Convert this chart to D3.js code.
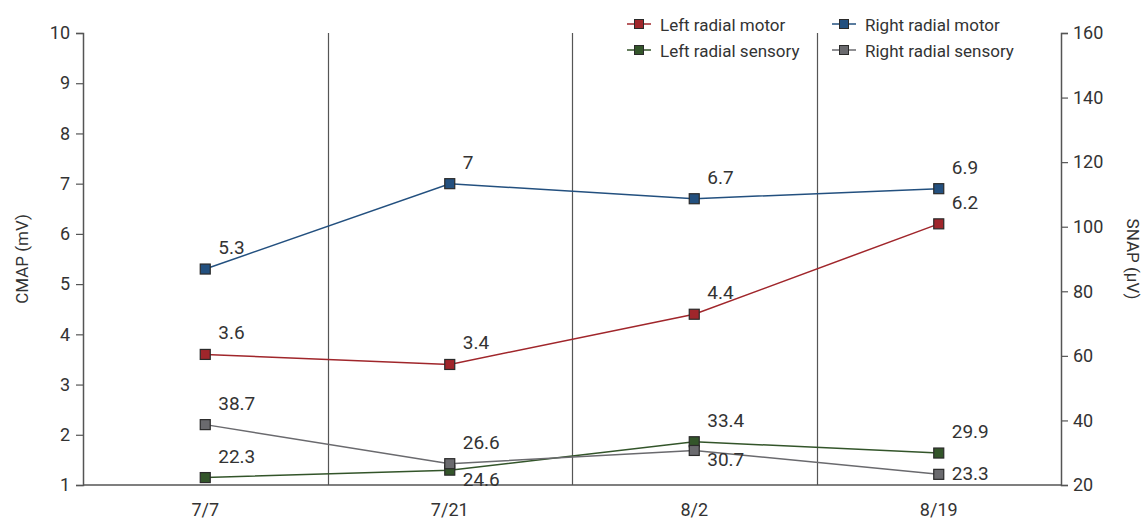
<!DOCTYPE html>
<html>
<head>
<meta charset="utf-8">
<script src="https://cdn.jsdelivr.net/npm/d3@7/dist/d3.min.js"></script>
<style>
  html, body { margin: 0; padding: 0; background: #fff; }
  svg text { font-family: "Roboto", "Liberation Sans", sans-serif; fill: #333; }
</style>
</head>
<body>
<svg id="chart" width="1145" height="521"></svg>
<script>
// Visit dates
const dates = ["7/7", "7/21", "8/2", "8/19"];

// CMAP (mV), left axis
const leftMotor = [3.6, 3.4, 4.4, 6.2];
const rightMotor = [5.3, 7, 6.7, 6.9];

// SNAP (µV), right axis
const leftSensory = [22.3, 24.6, 33.4, 29.9];
const rightSensory = [38.7, 26.6, 30.7, 23.3];

const cmapTicks = [1, 2, 3, 4, 5, 6, 7, 8, 9, 10];
const snapTicks = [20, 40, 60, 80, 100, 120, 140, 160];

const series = [
  { name: "Left radial motor",    values: leftMotor,    axis: "cmap", color: "#a0262b", label: ["up", "up", "up", "up"] },
  { name: "Right radial motor",   values: rightMotor,   axis: "cmap", color: "#23507f", label: ["up", "up", "up", "up"] },
  { name: "Left radial sensory",  values: leftSensory,  axis: "snap", color: "#33552a", label: ["up", "down", "up", "up"] },
  { name: "Right radial sensory", values: rightSensory, axis: "snap", color: "#6a6a6e", label: ["up", "up", "down", "side"] }
];

const svg = d3.select("#chart");
const margin = { top: 33, right: 84, bottom: 36, left: 83 };
const W = 1145, H = 521;
const x0 = margin.left, x1 = W - margin.right, y0 = H - margin.bottom, y1 = margin.top;

const x = d3.scaleBand().domain(dates).range([x0, x1]);
const yL = d3.scaleLinear().domain([1, 10]).range([y0, y1]);
const yR = d3.scaleLinear().domain([20, 160]).range([y0, y1]);

const axisColor = "#555";
const fs = 18;

// Vertical separators between visits
svg.append("g").selectAll("line")
  .data(dates.slice(1))
  .join("line")
  .attr("x1", d => Math.round(x(d)) + 0.5)
  .attr("x2", d => Math.round(x(d)) + 0.5)
  .attr("y1", y1).attr("y2", y0)
  .attr("stroke", axisColor).attr("stroke-width", 1.2);

// Left axis
const gL = svg.append("g").attr("transform", `translate(${x0},0)`)
  .call(d3.axisLeft(yL).tickValues(cmapTicks).tickSize(7).tickPadding(6));
// Right axis
const gR = svg.append("g").attr("transform", `translate(${x1},0)`)
  .call(d3.axisRight(yR).tickValues(snapTicks).tickSize(7).tickPadding(5));
// Bottom axis
const gB = svg.append("g").attr("transform", `translate(0,${y0})`)
  .call(d3.axisBottom(x).tickSize(0).tickPadding(18));

[gL, gR, gB].forEach(g => {
  g.select(".domain").attr("stroke", axisColor).attr("stroke-width", 1.5);
  g.selectAll(".tick line").attr("stroke", axisColor).attr("stroke-width", 1.2);
  g.selectAll(".tick text").attr("font-size", fs).attr("fill", "#333")
    .style("font-family", '"Roboto", "Liberation Sans", sans-serif');
});
gB.select(".domain").attr("d", `M${x0},0H${x1}`);

// Axis titles
svg.append("text")
  .attr("transform", `translate(28,${(y0 + y1) / 2}) rotate(-90)`)
  .attr("text-anchor", "middle").attr("font-size", fs - 1)
  .text("CMAP (mV)");
svg.append("text")
  .attr("transform", `translate(1127,${(y0 + y1) / 2}) rotate(90)`)
  .attr("text-anchor", "middle").attr("font-size", fs - 1)
  .text("SNAP (\u03bcV)");

const cx = d => x(d) + x.bandwidth() / 2;
const ms = 10;

series.forEach(s => {
  const yS = s.axis === "cmap" ? yL : yR;
  const pts = s.values.map((v, i) => ({ date: dates[i], v, pos: s.label[i] }));
  svg.append("path")
    .datum(pts)
    .attr("fill", "none").attr("stroke", s.color).attr("stroke-width", 1.5)
    .attr("d", d3.line().x(d => cx(d.date)).y(d => yS(d.v)));
  svg.append("g").selectAll("rect")
    .data(pts).join("rect")
    .attr("x", d => cx(d.date) - ms / 2).attr("y", d => yS(d.v) - ms / 2)
    .attr("width", ms).attr("height", ms)
    .attr("fill", s.color).attr("stroke", "#2a2a2a").attr("stroke-width", 1.2);
  svg.append("g").selectAll("text")
    .data(pts).join("text")
    .attr("font-size", fs + 1)
    .attr("x", d => cx(d.date) + 13)
    .attr("y", d => yS(d.v) + (d.pos === "up" ? -15 : d.pos === "down" ? 16 : 6))
    .text(d => d.v);
});

// Legend: two columns, two rows
const legend = svg.append("g");
const legendCols = [627, 832];
const legendSlots = [[0, 0], [1, 0], [0, 1], [1, 1]];
series.forEach((s, i) => {
  const lx = legendCols[legendSlots[i][0]];
  const ly = 24 + legendSlots[i][1] * 26;
  legend.append("line")
    .attr("x1", lx).attr("x2", lx + 24).attr("y1", ly).attr("y2", ly)
    .attr("stroke", s.color).attr("stroke-width", 1.5);
  legend.append("rect")
    .attr("x", lx + 12 - 4.5).attr("y", ly - 4.5).attr("width", 9).attr("height", 9)
    .attr("fill", s.color).attr("stroke", "#2a2a2a").attr("stroke-width", 1);
  legend.append("text")
    .attr("x", lx + 33).attr("y", ly + 6.5)
    .attr("font-size", fs - 1)
    .text(s.name);
});
</script>
</body>
</html>
